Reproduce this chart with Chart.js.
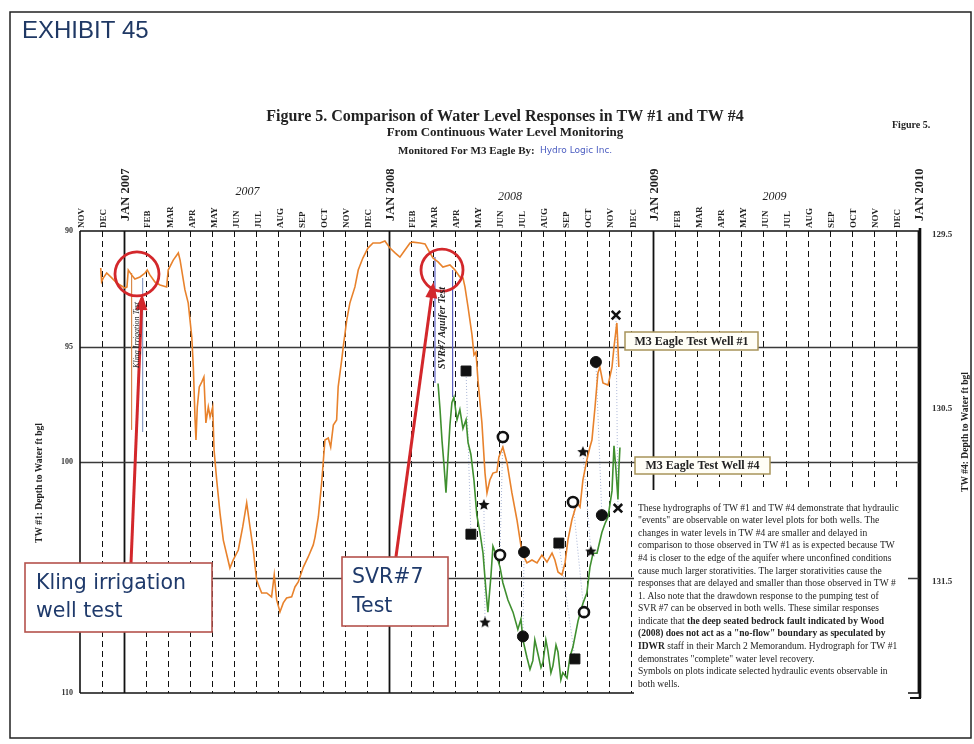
<!DOCTYPE html>
<html>
<head>
<meta charset="utf-8">
<title>Figure 5 - Water Level Responses in TW #1 and TW #4</title>
<script src="https://cdn.jsdelivr.net/npm/chart.js@4.4.1/dist/chart.umd.min.js"></script>
<style>
  html, body { margin: 0; padding: 0; background: #fff; }
  #wrap { width: 974px; height: 744px; position: relative; }
</style>
</head>
<body>
<div id="wrap"><canvas id="hydroChart"></canvas></div>
<script>
// x values are months counted from NOV 2006 (0) to JAN 2010 (38)
const monthLabels = ["NOV", "DEC", "JAN 2007", "FEB", "MAR", "APR", "MAY", "JUN", "JUL", "AUG", "SEP", "OCT", "NOV", "DEC",
  "JAN 2008", "FEB", "MAR", "APR", "MAY", "JUN", "JUL", "AUG", "SEP", "OCT", "NOV", "DEC",
  "JAN 2009", "FEB", "MAR", "APR", "MAY", "JUN", "JUL", "AUG", "SEP", "OCT", "NOV", "DEC", "JAN 2010"];
const yearLabels = ["2007", "2008", "2009"];
const yearCenters = [7.6, 19.5, 31.5];
const leftTicks = [90, 95, 100, 105, 110];
const rightTicks = [129.5, 130.5, 131.5];

// TW #1 depth to water (ft bgl), left axis
const tw1Month = [0.94, 0.98, 1.06, 1.21, 1.44, 1.66, 1.89, 2.04, 2.13, 2.19,
  2.34, 2.49, 2.72, 2.95, 3.05, 3.17, 3.40, 3.63, 3.93, 4.00,
  4.23, 4.46, 4.54, 4.76, 4.91, 5.07, 5.14, 5.22, 5.26, 5.32,
  5.41, 5.52, 5.62, 5.71, 5.82, 5.90, 6.02, 6.08, 6.20, 6.35,
  6.50, 6.80, 6.95, 7.18, 7.38, 7.56, 7.71, 7.86, 8.01, 8.24,
  8.47, 8.69, 8.81, 8.92, 9.07, 9.22, 9.37, 9.60, 9.75, 9.90,
  10.13, 10.35, 10.58, 10.66, 10.81, 10.96, 11.03, 11.11, 11.26, 11.37,
  11.49, 11.64, 11.71, 11.87, 11.94, 12.10, 12.24, 12.47, 12.62, 12.83,
  13.06, 13.29, 13.61, 13.83, 14.06, 14.29, 14.51, 14.74, 14.97, 15.10,
  15.42, 15.65, 15.87, 16.01, 16.24, 16.46, 16.78, 17.01, 17.23, 17.37,
  17.46, 17.60, 17.78, 17.87, 17.96, 18.05, 18.23, 18.37, 18.46, 18.59,
  18.73, 18.91, 19.00, 19.18, 19.37, 19.59, 19.82, 20.05, 20.27, 20.50,
  20.73, 20.95, 21.18, 21.41, 21.54, 21.68, 21.86, 22.00, 22.13, 22.31,
  22.54, 22.68, 22.81, 22.99, 23.13, 23.22, 23.36, 23.49, 23.58, 23.72,
  23.95, 24.13, 24.22, 24.35, 24.40, 24.44];
const tw1Depth = [91.60, 92.19, 92.03, 91.82, 92.03, 92.25, 92.38, 92.47, 92.42, 91.69,
  91.90, 92.08, 91.99, 91.82, 91.69, 91.90, 92.21, 92.34, 92.42, 91.69,
  91.26, 90.95, 91.26, 92.55, 93.12, 94.59, 95.89, 98.18, 99.05, 97.62,
  96.75, 96.54, 96.32, 98.31, 97.62, 98.05, 97.62, 99.48, 100.78, 102.21,
  103.38, 104.59, 104.24, 103.81, 102.81, 101.77, 102.81, 103.81, 105.11, 105.67,
  105.67, 105.84, 104.89, 105.97, 106.49, 106.10, 105.89, 105.84, 105.41, 105.19,
  104.55, 104.11, 103.59, 103.25, 102.38, 100.91, 100.04, 99.05, 98.96, 99.35,
  98.40, 98.18, 96.75, 95.58, 95.02, 93.85, 93.12, 92.42, 91.69, 91.17,
  90.74, 90.52, 90.52, 90.43, 90.74, 90.95, 91.13, 90.82, 90.52, 90.48,
  90.52, 90.56, 90.95, 91.17, 91.34, 91.56, 91.47, 91.69, 91.99, 92.03,
  92.42, 93.29, 94.50, 95.37, 95.24, 96.45, 98.31, 100.48, 101.34, 100.78,
  100.48, 100.43, 99.78, 99.35, 100.04, 101.34, 102.51, 103.94, 104.37, 104.24,
  104.37, 104.03, 104.33, 103.94, 104.24, 104.76, 104.89, 104.37, 103.38, 102.51,
  101.77, 101.95, 100.78, 99.91, 99.35, 99.05, 97.62, 96.15, 95.89, 96.58,
  96.67, 95.89, 95.02, 93.98, 95.02, 95.89];

// TW #4 depth to water (ft bgl), right axis
const tw4Month = [16.24, 16.33, 16.42, 16.51, 16.60, 16.69, 16.78, 16.87, 16.96, 17.10,
  17.23, 17.37, 17.51, 17.60, 17.73, 17.87, 18.00, 18.14, 18.28, 18.41,
  18.50, 18.64, 18.73, 18.91, 19.05, 19.18, 19.41, 19.64, 19.86, 20.00,
  20.09, 20.27, 20.41, 20.54, 20.63, 20.77, 20.91, 21.00, 21.13, 21.22,
  21.36, 21.45, 21.59, 21.68, 21.81, 21.90, 22.09, 22.22, 22.36, 22.59,
  22.81, 22.99, 23.13, 23.27, 23.45, 23.67, 23.81, 23.95, 24.13, 24.22,
  24.31, 24.40, 24.44, 24.49];
const tw4Depth = [130.38, 130.53, 130.71, 130.85, 131.01, 130.81, 130.62, 130.49, 130.46, 130.59,
  130.53, 130.64, 130.59, 130.72, 130.79, 130.94, 131.14, 131.24, 131.36, 131.57,
  131.70, 131.49, 131.32, 131.38, 131.44, 131.53, 131.63, 131.70, 131.80, 131.74,
  131.86, 131.96, 132.03, 131.98, 131.86, 131.94, 132.02, 131.99, 131.86, 131.92,
  132.05, 132.01, 131.89, 131.93, 132.09, 132.05, 132.08, 131.96, 131.90, 131.75,
  131.65, 131.59, 131.44, 131.36, 131.36, 131.24, 131.19, 131.15, 131.00, 130.74,
  130.88, 131.05, 130.88, 130.75];

// hydraulic events marked on both wells (same order in each)
const eventKinds = ["square", "star", "ring", "dot", "square", "ring", "star", "dot", "cross"];
const tw1EventMonth = [17.51, 18.32, 19.18, 20.14, 21.72, 22.36, 22.81, 23.40, 24.31];
const tw1EventDepth = [96.06, 101.86, 98.92, 103.90, 103.51, 101.73, 99.57, 95.67, 93.64];
const tw4EventMonth = [17.73, 18.37, 19.05, 20.09, 22.45, 22.86, 23.17, 23.67, 24.40];
const tw4EventDepth = [131.25, 131.76, 131.37, 131.84, 131.97, 131.70, 131.35, 131.14, 131.10];

function zip(xs, ys) {
  return xs.map((x, i) => ({ x: x, y: ys[i] }));
}

const serif = '"Liberation Serif", "Times New Roman", serif';
const sans = '"DejaVu Sans", Verdana, sans-serif';
const navy = "#1f3a6b";
const red = "#d3272b";

function makeStar(r) {
  const c = document.createElement("canvas");
  c.width = c.height = r * 2 + 2;
  const g = c.getContext("2d");
  g.fillStyle = "#111";
  g.beginPath();
  for (let i = 0; i < 10; i++) {
    const a = -Math.PI / 2 + i * Math.PI / 5;
    const rr = i % 2 ? r * 0.45 : r;
    g.lineTo(r + 1 + rr * Math.cos(a), r + 1 + rr * Math.sin(a));
  }
  g.closePath();
  g.fill();
  return c;
}

const starImg = makeStar(6);
const styleOf = { square: "rect", star: starImg, ring: "circle", dot: "circle", cross: "crossRot" };
const radiusOf = { square: 7, star: 6, ring: 5, dot: 5.5, cross: 6 };
const fillOf = { square: "#111", star: "#111", ring: "#fff", dot: "#111", cross: "#111" };
const widthOf = { square: 1, star: 1, ring: 2.6, dot: 1, cross: 2.6 };

function eventDataset(label, xs, ys, axis) {
  return {
    label: label,
    data: zip(xs, ys),
    yAxisID: axis,
    showLine: false,
    order: 0,
    pointStyle: eventKinds.map((k) => styleOf[k]),
    pointRadius: eventKinds.map((k) => radiusOf[k]),
    pointBackgroundColor: eventKinds.map((k) => fillOf[k]),
    pointBorderColor: "#111",
    pointBorderWidth: eventKinds.map((k) => widthOf[k]),
  };
}

function txt(ctx, s, x, y, font, color, align, base, rot) {
  ctx.save();
  ctx.font = font;
  ctx.fillStyle = color;
  ctx.textAlign = align || "left";
  ctx.textBaseline = base || "middle";
  ctx.translate(x, y);
  if (rot) ctx.rotate(rot);
  ctx.fillText(s, 0, 0);
  ctx.restore();
}

function line(ctx, x1, y1, x2, y2, color, width, dash) {
  ctx.save();
  ctx.strokeStyle = color;
  ctx.lineWidth = width;
  ctx.setLineDash(dash || []);
  ctx.beginPath();
  ctx.moveTo(x1, y1);
  ctx.lineTo(x2, y2);
  ctx.stroke();
  ctx.restore();
}

function arrow(ctx, x1, y1, x2, y2) {
  line(ctx, x1, y1, x2, y2, red, 3);
  const a = Math.atan2(y2 - y1, x2 - x1);
  ctx.save();
  ctx.fillStyle = red;
  ctx.beginPath();
  ctx.moveTo(x2 + 4 * Math.cos(a), y2 + 4 * Math.sin(a));
  ctx.lineTo(x2 - 12 * Math.cos(a) + 6 * Math.sin(a), y2 - 12 * Math.sin(a) - 6 * Math.cos(a));
  ctx.lineTo(x2 - 12 * Math.cos(a) - 6 * Math.sin(a), y2 - 12 * Math.sin(a) + 6 * Math.cos(a));
  ctx.closePath();
  ctx.fill();
  ctx.restore();
}

function box(ctx, x, y, w, h, fill, stroke, lw) {
  ctx.save();
  ctx.fillStyle = fill;
  ctx.fillRect(x, y, w, h);
  ctx.strokeStyle = stroke;
  ctx.lineWidth = lw;
  ctx.strokeRect(x, y, w, h);
  ctx.restore();
}

const paperPlugin = {
  id: "paper",
  beforeDraw(chart) {
    const ctx = chart.ctx;
    ctx.save();
    ctx.fillStyle = "#fff";
    ctx.fillRect(0, 0, chart.width, chart.height);
    ctx.strokeStyle = "#222";
    ctx.lineWidth = 1.5;
    ctx.strokeRect(10, 12, 961, 726);
    ctx.restore();
  },
};

const gridPlugin = {
  id: "monthGrid",
  beforeDatasetsDraw(chart) {
    const ctx = chart.ctx;
    const { left, right, top, bottom } = chart.chartArea;
    const xs = chart.scales.x, yl = chart.scales.y, yr = chart.scales.y2;
    for (let i = 1; i < monthLabels.length; i++) {
      const x = Math.round(xs.getPixelForValue(i)) + 0.5;
      const jan = monthLabels[i].startsWith("JAN");
      line(ctx, x, top, x, bottom, "#111", jan ? 1.8 : 1, jan ? [] : [6, 4]);
    }
    [95, 100, 105].forEach((v) => {
      const y = Math.round(yl.getPixelForValue(v)) + 0.5;
      line(ctx, left, y, right, y, "#3a3a3a", 1.3);
    });
    line(ctx, left, top, right, top, "#111", 1.6);
    line(ctx, left, bottom, right, bottom, "#111", 1.6);
    line(ctx, left, top, left, bottom, "#111", 1.6);
    line(ctx, right, top - 3, right, bottom + 5, "#111", 2.6);
    line(ctx, right - 10, bottom + 5, right + 1, bottom + 5, "#111", 2);

    // pumping test drawdown traces
    line(ctx, xs.getPixelForValue(2.34), yl.getPixelForValue(91.82), xs.getPixelForValue(2.34), yl.getPixelForValue(98.61), "#d98a4a", 1.2);
    line(ctx, xs.getPixelForValue(2.84), yl.getPixelForValue(92.03), xs.getPixelForValue(2.84), yl.getPixelForValue(98.70), "#8f9fc8", 1.2);
    line(ctx, xs.getPixelForValue(16.10), yl.getPixelForValue(91.13), xs.getPixelForValue(16.10), yl.getPixelForValue(96.58), "#5b5fc0", 1.2);
    line(ctx, xs.getPixelForValue(16.90), yl.getPixelForValue(91.69), xs.getPixelForValue(16.90), yl.getPixelForValue(97.19), "#5b5fc0", 1.2);

    // faint dotted links between matching events
    for (let i = 0; i < eventKinds.length; i++) {
      line(ctx, xs.getPixelForValue(tw1EventMonth[i]), yl.getPixelForValue(tw1EventDepth[i]),
        xs.getPixelForValue(tw4EventMonth[i]), yr.getPixelForValue(tw4EventDepth[i]), "#aab6d6", 1, [1, 2]);
    }
  },
};

const noteLines = [
  [["These hydrographs of TW #1 and TW #4 demonstrate that hydraulic", 0]],
  [['"events" are observable on water level plots for both wells. The', 0]],
  [["changes in water levels in TW #4 are smaller and delayed in", 0]],
  [["comparison to those observed in TW #1 as is expected because TW", 0]],
  [["#4 is closer to the edge of the aquifer where unconfined conditions", 0]],
  [["cause much larger storativities. The larger storativities cause the", 0]],
  [["responses that are delayed and smaller than those observed in TW #", 0]],
  [["1. Also note that the drawdown response to the pumping test of", 0]],
  [["SVR #7 can be observed in both wells. These similar responses", 0]],
  [["indicate that ", 0], ["the deep seated bedrock fault indicated by Wood", 1]],
  [['(2008) does not act as a "no-flow" boundary as speculated by', 1]],
  [["IDWR", 1], [" staff in their March 2 Memorandum. Hydrograph for TW #1", 0]],
  [['demonstrates "complete" water level recovery.', 0]],
  [["Symbols on plots indicate selected hydraulic events observable in", 0]],
  [["both wells.", 0]],
];

const notesPlugin = {
  id: "notes",
  afterDatasetsDraw(chart) {
    const ctx = chart.ctx;
    const xs = chart.scales.x, yl = chart.scales.y;
    const X = (v) => xs.getPixelForValue(v);
    const Y = (v) => yl.getPixelForValue(v);

    // red circles and arrows
    ctx.save();
    ctx.strokeStyle = red;
    ctx.lineWidth = 2.8;
    ctx.beginPath();
    ctx.arc(X(2.585), Y(91.86), 22, 0, Math.PI * 2);
    ctx.stroke();
    ctx.beginPath();
    ctx.arc(X(16.42), Y(91.69), 21, 0, Math.PI * 2);
    ctx.stroke();
    ctx.restore();
    arrow(ctx, X(2.31), Y(104.46), X(2.81), Y(92.9));
    arrow(ctx, X(14.33), Y(104.11), X(16.01), Y(92.38));

    txt(ctx, "Kling Irrigation Test", X(2.58), Y(94.5), "italic 8px " + serif, "#222", "center", "middle", -Math.PI / 2);
    txt(ctx, "SVR#7 Aquifer Test", X(16.42), Y(94.2), "italic bold 10px " + serif, "#222", "center", "middle", -Math.PI / 2);

    // well labels
    box(ctx, 625, 332, 133, 18, "#fffef6", "#a8945a", 1.5);
    txt(ctx, "M3 Eagle Test Well #1", 691.5, 341.5, "bold 12px " + serif, "#222", "center");
    box(ctx, 635, 457, 135, 17, "#fffef6", "#a8945a", 1.5);
    txt(ctx, "M3 Eagle Test Well #4", 702.5, 466, "bold 12px " + serif, "#222", "center");

    // explanation text block
    ctx.save();
    ctx.fillStyle = "#fff";
    ctx.fillRect(634, 490, 274, 214);
    ctx.restore();
    ctx.save();
    ctx.font = "9.5px " + serif;
    const sx = Math.min(1, 272 / ctx.measureText(noteLines[0][0][0]).width);
    noteLines.forEach((segs, i) => {
      let cx = 0;
      const y = 508 + i * 12.6;
      ctx.save();
      ctx.translate(638, y);
      ctx.scale(sx, 1);
      segs.forEach(([s, b]) => {
        ctx.font = (b ? "bold " : "") + "9.5px " + serif;
        ctx.fillStyle = "#222";
        ctx.textBaseline = "middle";
        ctx.fillText(s, cx, 0);
        cx += ctx.measureText(s).width;
      });
      ctx.restore();
    });
    ctx.restore();

    // callout boxes
    box(ctx, 25, 563, 187, 69, "#fff", "#b5524c", 1.6);
    txt(ctx, "Kling irrigation", 36, 584, "20.5px " + sans, navy);
    txt(ctx, "well test", 36, 612, "20.5px " + sans, navy);
    box(ctx, 342, 557, 106, 69, "#fff", "#b5524c", 1.6);
    txt(ctx, "SVR#7", 352, 578, "20.5px " + sans, navy);
    txt(ctx, "Test", 352, 607, "20.5px " + sans, navy);
  },
  afterDraw(chart) {
    const ctx = chart.ctx;
    const xs = chart.scales.x, yl = chart.scales.y, yr = chart.scales.y2;

    // month labels, reading upward from just above the plot
    monthLabels.forEach((m, i) => {
      const jan = m.startsWith("JAN");
      txt(ctx, m, xs.getPixelForValue(i) + 2, jan ? 221 : 228,
        "bold " + (jan ? 12.5 : 9) + "px " + serif, "#222", "left", "middle", -Math.PI / 2);
    });
    yearLabels.forEach((y, i) => {
      txt(ctx, y, xs.getPixelForValue(yearCenters[i]), i === 0 ? 192 : 197, "italic 12px " + serif, "#222", "center");
    });

    // left and right tick labels
    leftTicks.forEach((v) => {
      if (v === 105) return;
      txt(ctx, String(v), 73, yl.getPixelForValue(v), "bold 8px " + serif, "#333", "right");
    });
    rightTicks.forEach((v) => {
      txt(ctx, v.toFixed(1), 932, yr.getPixelForValue(v) + 4, "bold 9px " + serif, "#333", "left");
    });
    txt(ctx, "TW #1: Depth to Water ft bgl", 40, 483, "bold 9.5px " + serif, "#222", "center", "middle", -Math.PI / 2);
    txt(ctx, "TW #4: Depth to Water ft bgl", 966, 432, "bold 9.5px " + serif, "#222", "center", "middle", -Math.PI / 2);

    // titles
    txt(ctx, "Figure 5. Comparison of Water Level Responses in TW #1 and TW #4", 505, 117, "bold 16px " + serif, "#222", "center");
    txt(ctx, "From Continuous Water Level Monitoring", 505, 133, "bold 13px " + serif, "#222", "center");
    txt(ctx, "Monitored For M3 Eagle By: ", 398, 151, "bold 11px " + serif, "#222", "left");
    txt(ctx, "Hydro Logic Inc.", 540, 151, "9px " + sans, "#4a5cc0", "left");
    txt(ctx, "Figure 5.", 892, 125, "bold 10px " + serif, "#222", "left");
    txt(ctx, "EXHIBIT 45", 22, 31, '24px "Liberation Sans", Arial, sans-serif', "#1f3864", "left");
  },
};

new Chart(document.getElementById("hydroChart"), {
  type: "scatter",
  data: {
    datasets: [
      eventDataset("TW #1 events", tw1EventMonth, tw1EventDepth, "y"),
      eventDataset("TW #4 events", tw4EventMonth, tw4EventDepth, "y2"),
      {
        label: "M3 Eagle Test Well #1",
        data: zip(tw1Month, tw1Depth),
        yAxisID: "y",
        showLine: true,
        borderColor: "#e8822c",
        borderWidth: 1.6,
        pointRadius: 0,
        tension: 0,
        order: 1,
      },
      {
        label: "M3 Eagle Test Well #4",
        data: zip(tw4Month, tw4Depth),
        yAxisID: "y2",
        showLine: true,
        borderColor: "#3f8f2f",
        borderWidth: 1.6,
        pointRadius: 0,
        tension: 0,
        order: 1,
      },
    ],
  },
  options: {
    responsive: true,
    maintainAspectRatio: false,
    devicePixelRatio: 1,
    animation: false,
    events: [],
    layout: {
      padding: { left: 80, right: 54, top: 231, bottom: 51 },
    },
    scales: {
      x: { type: "linear", min: 0, max: 38.1, display: false },
      y: { type: "linear", min: 90, max: 110, reverse: true, display: false },
      y2: { type: "linear", min: 129.5, max: 129.5 + 20 * 2 / 15, reverse: true, display: false },
    },
    plugins: {
      legend: { display: false },
      title: { display: false },
      tooltip: { enabled: false },
    },
  },
  plugins: [paperPlugin, gridPlugin, notesPlugin],
});
</script>
</body>
</html>
